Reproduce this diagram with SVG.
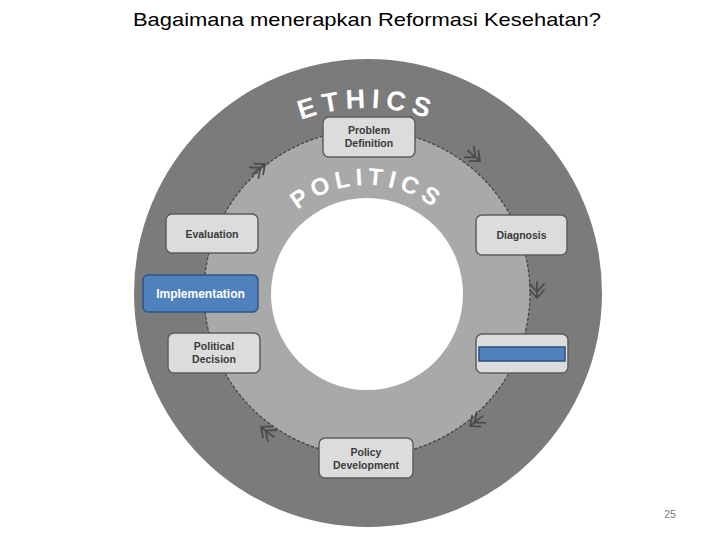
<svg xmlns="http://www.w3.org/2000/svg" width="720" height="540" viewBox="0 0 720 540">
  <defs>
    <style>
      .title { font-family: "Liberation Sans", Arial, sans-serif; font-size: 19px; fill: #000; }
      .ring { font-family: "Liberation Sans", Arial, sans-serif; font-weight: bold; fill: #ffffff; }
      .box { fill: #dcdcdc; stroke: #5e5e5e; stroke-width: 1.5; }
      .lbl { font-family: "Liberation Sans", Arial, sans-serif; font-weight: bold; font-size: 10.5px; fill: #3a3a3a; text-anchor: middle; }
      .chev { fill: none; stroke: #4a4a4a; stroke-width: 1.7; stroke-linecap: round; stroke-linejoin: round; }
    </style>
    <path id="ethicsArc" d="M 182 293 A 185 185 0 0 1 552 293"/>
    <path id="politicsArc" d="M 259 293 A 108 108 0 0 1 475 293"/>
    <g id="chevron">
      <path class="chev" d="M -8 -7 L 0 0 L -8 7 M -14 -7 L -6 0 L -14 7 M -16 0 L 0 0"/>
    </g>
  </defs>

  <rect width="720" height="540" fill="#ffffff"/>

  <text class="title" x="367" y="26" text-anchor="middle" textLength="468" lengthAdjust="spacingAndGlyphs">Bagaimana menerapkan Reformasi Kesehatan?</text>

  <g id="rings">
    <circle cx="368" cy="293" r="234" fill="#7b7b7b"/>
    <circle cx="367" cy="293" r="163" fill="#a9a9a9" stroke="#3e3e3e" stroke-width="1.2" stroke-dasharray="3 2"/>
    <circle cx="367" cy="294" r="96" fill="#ffffff"/>
    <text class="ring" font-size="27" letter-spacing="6"><textPath href="#ethicsArc" startOffset="50%" text-anchor="middle">ETHICS</textPath></text>
    <text class="ring" font-size="24" letter-spacing="5"><textPath href="#politicsArc" startOffset="50%" text-anchor="middle">POLITICS</textPath></text>
  </g>

  <g id="connectors">
    <use href="#chevron" transform="translate(265 164) rotate(-39)"/>
    <use href="#chevron" transform="translate(480 161) rotate(40)"/>
    <use href="#chevron" transform="translate(537 298) rotate(90)"/>
    <use href="#chevron" transform="translate(470 426) rotate(142)"/>
    <use href="#chevron" transform="translate(261 427) rotate(218)"/>
  </g>

  <g id="problem-definition">
    <rect class="box" x="323" y="117" width="92" height="40" rx="6"/>
    <text class="lbl" x="369" y="134">Problem</text>
    <text class="lbl" x="369" y="147">Definition</text>
  </g>

  <g id="diagnosis">
    <rect class="box" x="476" y="215" width="91" height="40" rx="6"/>
    <text class="lbl" x="521.5" y="239">Diagnosis</text>
  </g>

  <g id="blank-step">
    <rect class="box" x="476" y="334" width="92" height="39" rx="6"/>
    <rect x="479" y="347" width="86" height="14" fill="#4f81bd" stroke="#2d4f7c" stroke-width="1.5"/>
  </g>

  <g id="policy-development">
    <rect class="box" x="319" y="438" width="94" height="40" rx="6"/>
    <text class="lbl" x="366" y="456">Policy</text>
    <text class="lbl" x="366" y="469">Development</text>
  </g>

  <g id="political-decision">
    <rect class="box" x="168" y="333" width="92" height="40" rx="6"/>
    <text class="lbl" x="214" y="350">Political</text>
    <text class="lbl" x="214" y="363">Decision</text>
  </g>

  <g id="implementation">
    <rect x="143" y="275" width="115" height="37" rx="5" fill="#4f81bd" stroke="#2f5486" stroke-width="1.5"/>
    <text x="200.5" y="298" text-anchor="middle" font-family="Liberation Sans, Arial, sans-serif" font-size="12" font-weight="bold" fill="#ffffff">Implementation</text>
  </g>

  <g id="evaluation">
    <rect class="box" x="166" y="214" width="92" height="39" rx="6"/>
    <text class="lbl" x="212" y="238">Evaluation</text>
  </g>

  <text x="670" y="518" text-anchor="middle" font-family="Liberation Sans, Arial, sans-serif" font-size="10.5" fill="#7a7a7a">25</text>
</svg>
